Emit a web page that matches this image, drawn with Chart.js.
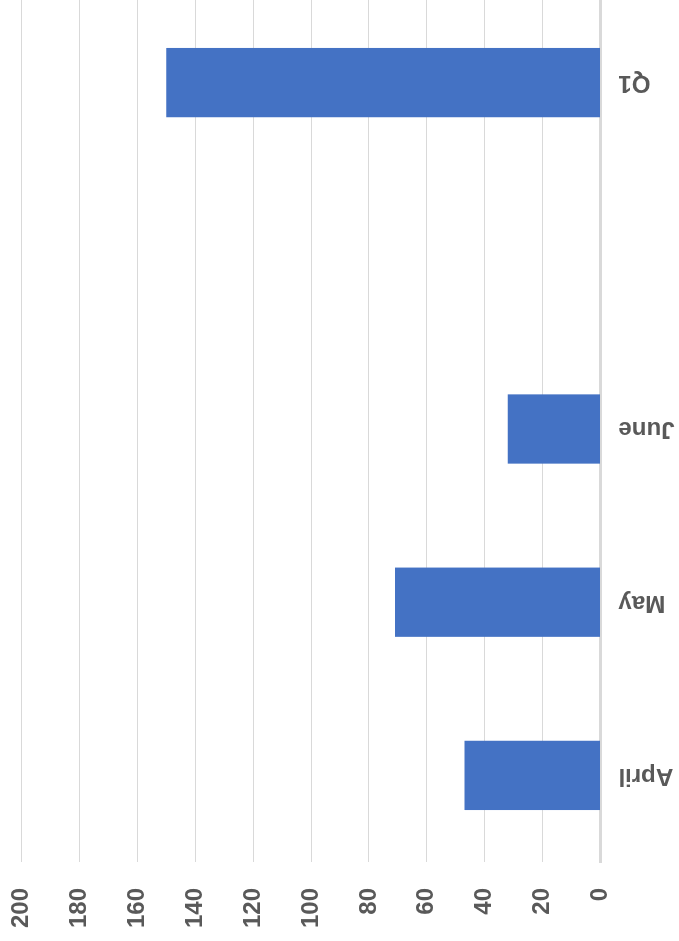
<!DOCTYPE html>
<html>
<head>
<meta charset="utf-8">
<script src="https://cdn.jsdelivr.net/npm/chart.js@4"></script>
<style>
  html, body { margin: 0; padding: 0; background: #fff; overflow: hidden; width: 679px; height: 941px; }
  /* the chart is drawn as a column chart and turned a quarter left */
  #wrap { position: absolute; left: 0; top: 0; width: 946px; height: 679px;
          transform-origin: 0 0; transform: translate(0, 941px) rotate(-90deg); }
</style>
</head>
<body>
<div id="wrap"><canvas id="myChart" width="946" height="679"></canvas></div>
<script>
// data
const categories = ["April", "May", "June", "", "Q1"];
const values = [47, 71, 32, null, 150];
const valueTicks = [0, 20, 40, 60, 80, 100, 120, 140, 160, 180, 200];

const textColor = "#595959";
const gridColor = "#d9d9d9";
const font = { family: "'Liberation Sans', Arial, sans-serif", size: 24, weight: "bold" };

const datasets = [{
    label: "Value",
    data: values,
    backgroundColor: "#4472C4",
    borderWidth: 0,
    categoryPercentage: 1,
    barPercentage: 0.4
}];

const config = {
    type: "bar",
    data: { labels: categories, datasets },
    options: {
        responsive: false,
        animation: false,
        layout: { padding: { top: 21.5, right: 1, bottom: 0, left: 0 } },
        plugins: { legend: { display: false }, tooltip: { enabled: false } },
        scales: {
            x: {
                grid: { display: false, drawTicks: false },
                border: { display: true, color: gridColor, width: 3 },
                ticks: { color: textColor, font, padding: 18, minRotation: 90, maxRotation: 90, autoSkip: false },
                afterFit: (s) => { s.height = 78.5; s.paddingLeft = 0; s.paddingRight = 0; }
            },
            y: {
                min: 0,
                max: 200,
                grid: { color: gridColor, lineWidth: 1, drawTicks: false },
                border: { display: false },
                ticks: { color: textColor, font, padding: 26 },
                afterBuildTicks: (s) => { s.ticks = valueTicks.map((v) => ({ value: v })); },
                afterFit: (s) => { s.width = 79; s.paddingTop = 0; s.paddingBottom = 0; }
            }
        }
    }
};

new Chart(document.getElementById("myChart"), config);
</script>
</body>
</html>
